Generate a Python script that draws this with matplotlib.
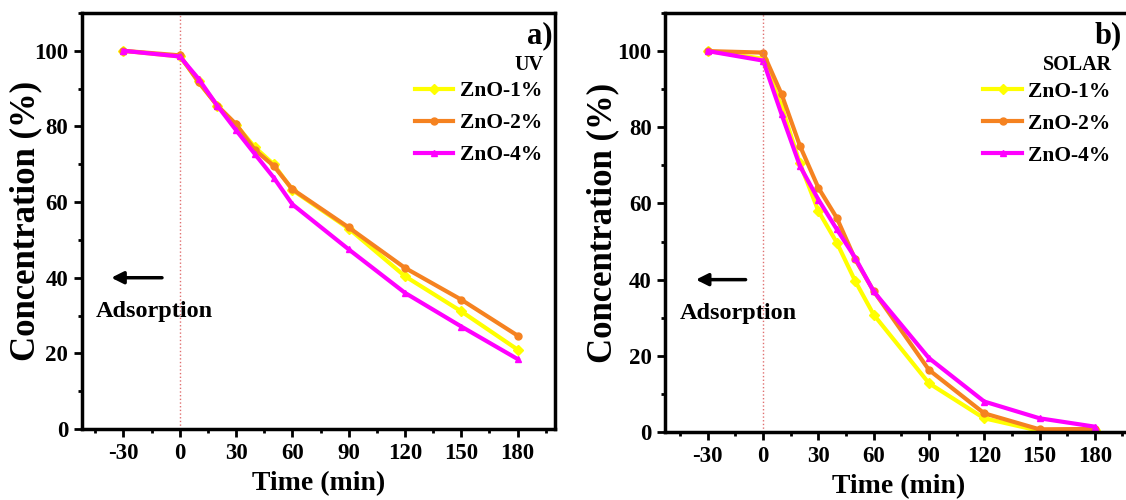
import numpy as np
import matplotlib.pyplot as plt
from matplotlib.ticker import MultipleLocator

plt.rcParams['font.family'] = ['Liberation Serif', 'DejaVu Serif']
plt.rcParams['font.weight'] = 'bold'
plt.rcParams['axes.unicode_minus'] = False

# 時間 (min)
time = [-30, 0, 10, 20, 30, 40, 50, 60, 90, 120, 150, 180]
labels = ['ZnO-1%', 'ZnO-2%', 'ZnO-4%']

# a) UV
uv_1 = [100, 98.5, 92.0, 85.5, 80.4, 74.5, 70.0, 63.2, 53.0, 40.4, 31.1, 21.0]
uv_2 = [100, 98.8, 91.7, 85.5, 80.6, 73.8, 69.6, 63.4, 53.3, 42.6, 34.2, 24.7]
uv_4 = [100, 98.5, 92.6, 85.5, 79.0, 72.7, 66.5, 59.4, 47.5, 36.0, 27.1, 18.5]

# b) SOLAR
solar_1 = [100, 98.0, 85.5, 70.5, 58.0, 49.7, 39.6, 30.8, 12.8, 3.6, 0.3, 0.5]
solar_2 = [100, 99.6, 88.7, 75.1, 64.1, 56.2, 45.3, 37.0, 16.3, 4.9, 0.7, 0.8]
solar_4 = [100, 97.5, 83.4, 69.8, 61.0, 53.2, 45.7, 36.9, 19.4, 8.0, 3.6, 1.4]

colors = ['#ffff00', '#f58220', '#ff00ff']
markers = ['D', 'o', '^']


def draw_panel(ax, series, tag, title, ylab_x, right):
    for y, c, m, lab in zip(series, colors, markers, labels):
        ax.plot(time, y, color=c, marker=m, markersize=5, lw=3, label=lab)
    ax.axvline(0, color='#e07070', ls=':', lw=1)
    ax.set_ylim(0, 110)
    ax.set_xticks([-30, 0, 30, 60, 90, 120, 150, 180])
    ax.xaxis.set_minor_locator(MultipleLocator(15))
    ax.set_yticks([0, 20, 40, 60, 80, 100])
    ax.yaxis.set_minor_locator(MultipleLocator(10))
    ax.tick_params(which='major', direction='out', length=6, width=2,
                   labelsize=16.5, pad=4)
    ax.tick_params(which='minor', direction='out', length=3, width=2)
    for s in ax.spines.values():
        s.set_linewidth(2.5)
    ax.set_xlabel('Time (min)', fontsize=20, fontweight='bold')
    ax.xaxis.set_label_coords(0.5, -0.10)
    ax.set_ylabel('Concentration (%)', fontsize=25, fontweight='bold')
    ax.yaxis.set_label_coords(ylab_x, 0.5)
    ax.annotate('', xy=(-38, 40), xytext=(-8, 40),
                arrowprops=dict(arrowstyle='-|>', color='black', lw=2.5,
                                mutation_scale=18))
    ax.text(-45, 31, 'Adsorption', fontsize=17.5, fontweight='bold', va='center')
    ax.text(right, 0.945, tag, transform=ax.transAxes, fontsize=22,
            fontweight='bold', ha='right', va='center')
    ax.text(right - 0.02, 0.875, title, transform=ax.transAxes, fontsize=14.5,
            fontweight='bold', ha='right', va='center')
    ax.legend(loc='upper right', bbox_to_anchor=(right + 0.005, 0.867),
              frameon=False, fontsize=15.5, handlelength=1.8,
              handletextpad=0.3, labelspacing=0.55, borderaxespad=0.2)


fig = plt.figure(figsize=(11.26, 5.0), dpi=100)
ax1 = fig.add_axes([0.073, 0.142, 0.420, 0.832])
ax2 = fig.add_axes([0.591, 0.136, 0.414, 0.838])

draw_panel(ax1, [uv_1, uv_2, uv_4], 'a)', 'UV', -0.085, 0.995)
draw_panel(ax2, [solar_1, solar_2, solar_4], 'b)', 'SOLAR', -0.1, 0.978)
ax1.set_xlim(-52, 200)
ax2.set_xlim(-53, 200)

fig.savefig('out.png', dpi=100)
